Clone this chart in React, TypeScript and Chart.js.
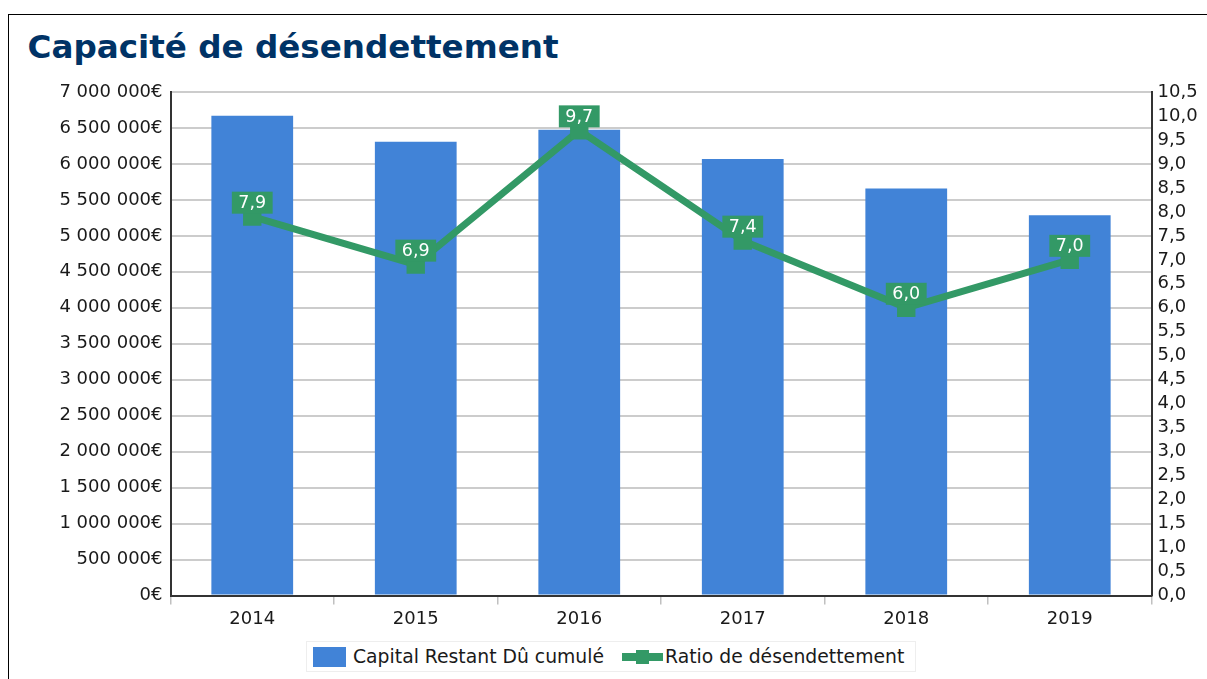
import React, { useEffect, useRef } from 'react';
import { Chart, registerables } from 'chart.js';

Chart.register(...registerables);

// ---- Data ----
const chartTitle = 'Capacité de désendettement';
const categories = ['2014', '2015', '2016', '2017', '2018', '2019'];
const capitalValues = [6670000, 6310000, 6475000, 6070000, 5660000, 5285000];
const ratioValues = [7.9, 6.9, 9.7, 7.4, 6.0, 7.0];
const seriesNames = ['Capital Restant Dû cumulé', 'Ratio de désendettement'];
const leftAxisMax = 7000000;
const leftAxisStep = 500000;
const rightAxisMax = 10.5;
const rightAxisStep = 0.5;

// ---- Styles ----
const FONT = '"DejaVu Sans", Verdana, sans-serif';
const BLUE = '#4183d7';
const GREEN = '#339966';
const TEXT = '#1a1a1a';

const fmtEuro = (v: number) =>
  String(Math.round(v)).replace(/\B(?=(\d{3})+(?!\d))/g, ' ') + '€';
const fmtRatio = (v: number) => Number(v).toFixed(1).replace('.', ',');

const valueLabelPlugin = {
  id: 'valueLabels',
  afterDatasetsDraw(chart: any) {
    const ctx = chart.ctx;
    chart.data.datasets.forEach((ds: any, i: number) => {
      if (ds.type !== 'line') return;
      const meta = chart.getDatasetMeta(i);
      ctx.save();
      ctx.font = '17.5px ' + FONT;
      ctx.textAlign = 'center';
      ctx.textBaseline = 'middle';
      meta.data.forEach((pt: any, j: number) => {
        const txt = fmtRatio(ds.data[j]);
        const w = ctx.measureText(txt).width + 13;
        const h = 22;
        const bottom = pt.y - 3;
        ctx.fillStyle = GREEN;
        ctx.fillRect(pt.x - w / 2, bottom - h, w, h);
        ctx.fillStyle = '#ffffff';
        ctx.fillText(txt, pt.x, bottom - h / 2 + 1);
      });
      ctx.restore();
    });
  },
};

export default function App() {
  const canvasRef = useRef<HTMLCanvasElement | null>(null);

  useEffect(() => {
    if (!canvasRef.current) return;
    const tickFont = { family: FONT, size: 18 };
    const chart = new Chart(canvasRef.current, {
      type: 'bar',
      data: {
        labels: categories,
        datasets: [
          {
            type: 'line',
            label: seriesNames[1],
            data: ratioValues,
            yAxisID: 'y1',
            borderColor: GREEN,
            backgroundColor: GREEN,
            borderWidth: 7,
            pointStyle: 'rect',
            pointRadius: 13,
            pointHoverRadius: 13,
            pointBackgroundColor: GREEN,
            pointBorderColor: GREEN,
            pointBorderWidth: 0,
            tension: 0,
            order: 1,
          } as any,
          {
            type: 'bar',
            label: seriesNames[0],
            data: capitalValues,
            yAxisID: 'y',
            backgroundColor: BLUE,
            borderWidth: 0,
            barPercentage: 0.5,
            categoryPercentage: 1,
            order: 2,
          } as any,
        ],
      },
      options: {
        responsive: false,
        animation: false,
        events: [],
        layout: { padding: { top: 77, left: 0, right: 0, bottom: 0 } },
        plugins: {
          legend: { display: false },
          title: { display: false },
          tooltip: { enabled: false },
        },
        scales: {
          x: {
            grid: {
              display: true,
              drawOnChartArea: false,
              offset: true,
              tickLength: 9,
              color: '#c0c0c0',
              lineWidth: 1.5,
            },
            border: { display: true, color: '#333333', width: 2 },
            ticks: { font: tickFont, color: TEXT, padding: 4, autoSkip: false },
            afterFit: (s: any) => {
              s.height = 34.5;
            },
          },
          y: {
            position: 'left',
            min: 0,
            max: leftAxisMax,
            ticks: {
              stepSize: leftAxisStep,
              autoSkip: false,
              callback: (v: any) => fmtEuro(Number(v)),
              font: tickFont,
              color: TEXT,
              padding: 8,
            },
            grid: { color: '#cccccc', lineWidth: 2, drawTicks: false },
            border: { display: true, color: '#333333', width: 2 },
            afterFit: (s: any) => {
              s.width = 161.5;
            },
          },
          y1: {
            position: 'right',
            min: 0,
            max: rightAxisMax,
            ticks: {
              stepSize: rightAxisStep,
              autoSkip: false,
              callback: (v: any) => fmtRatio(Number(v)),
              font: tickFont,
              color: TEXT,
              padding: 6,
            },
            grid: { drawOnChartArea: false, drawTicks: false },
            border: { display: true, color: '#333333', width: 2 },
            afterFit: (s: any) => {
              s.width = 55.5;
            },
          },
        },
      } as any,
      plugins: [valueLabelPlugin],
    });
    return () => chart.destroy();
  }, []);

  return (
    <div
      style={{
        position: 'absolute',
        left: 8,
        top: 14,
        width: 1199,
        height: 665,
        boxSizing: 'border-box',
        borderTop: '1px solid #000',
        borderLeft: '1px solid #000',
        background: '#fff',
        overflow: 'hidden',
      }}
    >
      <div
        style={{
          position: 'absolute',
          left: 18.5,
          top: 16.4,
          fontFamily: FONT,
          fontWeight: 'bold',
          fontSize: 32.6,
          lineHeight: 1,
          color: '#003366',
          whiteSpace: 'nowrap',
        }}
      >
        {chartTitle}
      </div>
      <canvas
        ref={canvasRef}
        width={1198}
        height={615}
        style={{ position: 'absolute', left: 0, top: 0, width: 1198, height: 615 }}
      />
      <div
        style={{
          position: 'absolute',
          left: 297,
          top: 626,
          width: 610,
          height: 31,
          boxSizing: 'border-box',
          border: '1px solid #eeeeee',
          display: 'flex',
          alignItems: 'center',
          fontFamily: FONT,
          fontSize: 18.8,
          color: TEXT,
          whiteSpace: 'nowrap',
        }}
      >
        <span style={{ display: 'inline-block', width: 33, height: 20, background: BLUE, marginLeft: 6, marginRight: 7 }} />
        <span>{seriesNames[0]}</span>
        <span style={{ display: 'inline-block', position: 'relative', width: 41, height: 14, marginLeft: 18, marginRight: 2 }}>
          <span style={{ position: 'absolute', left: 0, top: 3, width: 41, height: 8, background: GREEN }} />
          <span style={{ position: 'absolute', left: 14, top: 0, width: 13, height: 14, background: GREEN }} />
        </span>
        <span>{seriesNames[1]}</span>
      </div>
    </div>
  );
}
